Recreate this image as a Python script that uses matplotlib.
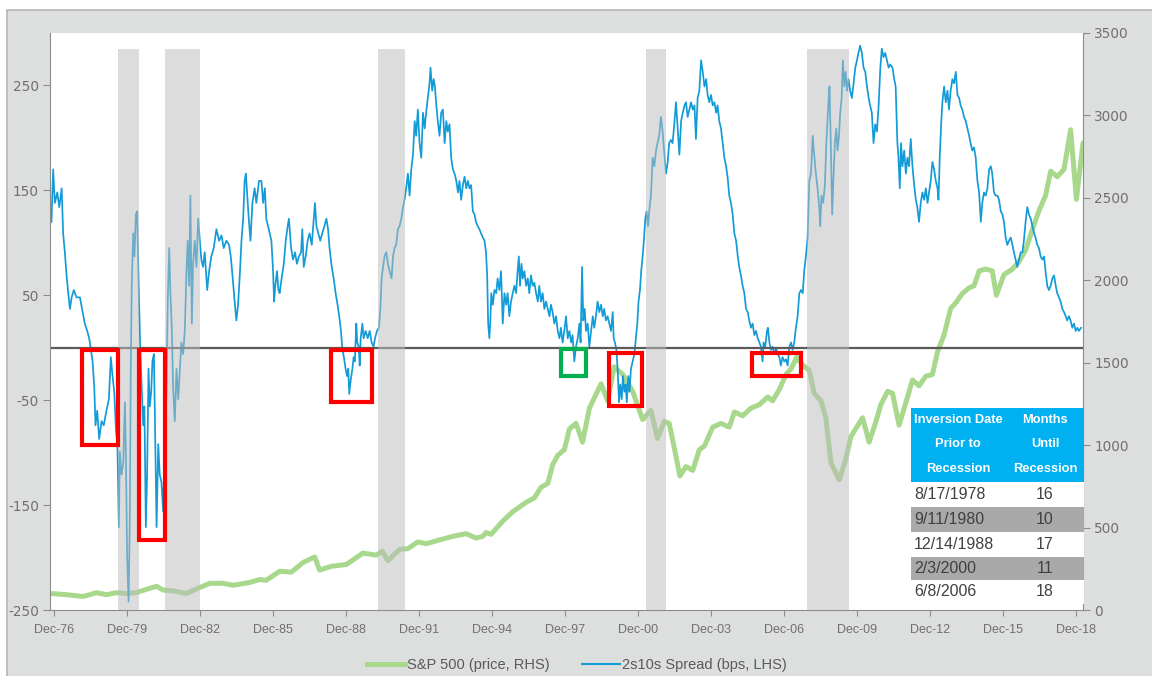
import matplotlib.pyplot as plt
from matplotlib.patches import Rectangle
from matplotlib.lines import Line2D

# 2s10s spread, bps (left axis), x in decimal years
spread_year = [
    1976.82, 1976.89, 1976.96, 1977.06, 1977.14, 1977.24, 1977.30, 1977.37, 1977.44, 1977.51,
    1977.58, 1977.65, 1977.74, 1977.85, 1977.99, 1978.10, 1978.19, 1978.29, 1978.37, 1978.43,
    1978.51, 1978.58, 1978.63, 1978.70, 1978.78, 1978.88, 1978.97, 1979.08, 1979.18, 1979.26,
    1979.33, 1979.40, 1979.47, 1979.53, 1979.59, 1979.63, 1979.70, 1979.77, 1979.84, 1979.88,
    1979.93, 1979.99, 1980.04, 1980.08, 1980.12, 1980.18, 1980.23, 1980.29, 1980.34, 1980.38,
    1980.42, 1980.47, 1980.53, 1980.59, 1980.64, 1980.70, 1980.75, 1980.81, 1980.86, 1980.92,
    1980.97, 1981.03, 1981.07, 1981.14, 1981.21, 1981.27, 1981.34, 1981.41, 1981.48, 1981.55,
    1981.60, 1981.66, 1981.71, 1981.77, 1981.82, 1981.89, 1981.96, 1982.03, 1982.09, 1982.16,
    1982.23, 1982.30, 1982.37, 1982.42, 1982.48, 1982.53, 1982.59, 1982.64, 1982.71, 1982.78,
    1982.85, 1982.92, 1982.98, 1983.05, 1983.12, 1983.22, 1983.30, 1983.39, 1983.49, 1983.60,
    1983.71, 1983.81, 1983.90, 1984.01, 1984.12, 1984.19, 1984.26, 1984.35, 1984.42, 1984.49,
    1984.56, 1984.63, 1984.70, 1984.76, 1984.81, 1984.86, 1984.93, 1985.00, 1985.08, 1985.17,
    1985.24, 1985.35, 1985.45, 1985.52, 1985.59, 1985.65, 1985.72, 1985.79, 1985.86, 1985.93,
    1985.97, 1986.02, 1986.09, 1986.15, 1986.20, 1986.28, 1986.37, 1986.45, 1986.53, 1986.58,
    1986.67, 1986.75, 1986.83, 1986.91, 1986.99, 1987.08, 1987.13, 1987.19, 1987.27, 1987.35,
    1987.43, 1987.52, 1987.60, 1987.65, 1987.71, 1987.79, 1987.87, 1987.95, 1988.04, 1988.12,
    1988.19, 1988.25, 1988.34, 1988.42, 1988.50, 1988.58, 1988.67, 1988.72, 1988.77, 1988.84,
    1988.91, 1988.97, 1989.02, 1989.06, 1989.12, 1989.19, 1989.24, 1989.29, 1989.35, 1989.39,
    1989.45, 1989.49, 1989.53, 1989.60, 1989.65, 1989.73, 1989.82, 1989.90, 1989.98, 1990.06,
    1990.12, 1990.20, 1990.28, 1990.34, 1990.39, 1990.45, 1990.51, 1990.58, 1990.65, 1990.72,
    1990.80, 1990.86, 1990.92, 1990.99, 1991.06, 1991.13, 1991.20, 1991.27, 1991.33, 1991.40,
    1991.47, 1991.54, 1991.61, 1991.68, 1991.75, 1991.81, 1991.88, 1991.95, 1992.02, 1992.09,
    1992.16, 1992.22, 1992.29, 1992.36, 1992.40, 1992.47, 1992.53, 1992.58, 1992.64, 1992.70,
    1992.77, 1992.84, 1992.91, 1992.98, 1993.05, 1993.11, 1993.18, 1993.25, 1993.32, 1993.39,
    1993.46, 1993.53, 1993.59, 1993.66, 1993.73, 1993.80, 1993.87, 1993.94, 1994.00, 1994.07,
    1994.14, 1994.21, 1994.27, 1994.34, 1994.41, 1994.48, 1994.55, 1994.62, 1994.68, 1994.73,
    1994.77, 1994.82, 1994.86, 1994.90, 1994.96, 1995.03, 1995.10, 1995.16, 1995.23, 1995.30,
    1995.37, 1995.44, 1995.51, 1995.57, 1995.64, 1995.71, 1995.78, 1995.85, 1995.92, 1995.98,
    1996.03, 1996.08, 1996.14, 1996.19, 1996.26, 1996.33, 1996.40, 1996.46, 1996.53, 1996.60,
    1996.67, 1996.74, 1996.81, 1996.87, 1996.94, 1997.01, 1997.08, 1997.15, 1997.22, 1997.29,
    1997.35, 1997.42, 1997.49, 1997.56, 1997.63, 1997.70, 1997.76, 1997.83, 1997.90, 1997.97,
    1998.04, 1998.11, 1998.18, 1998.24, 1998.31, 1998.38, 1998.45, 1998.52, 1998.57, 1998.63,
    1998.68, 1998.74, 1998.79, 1998.86, 1998.93, 1999.00, 1999.07, 1999.13, 1999.20, 1999.27,
    1999.34, 1999.41, 1999.48, 1999.54, 1999.61, 1999.68, 1999.75, 1999.82, 1999.89, 1999.93,
    1999.98, 2000.04, 2000.09, 2000.15, 2000.20, 2000.26, 2000.31, 2000.37, 2000.42, 2000.47,
    2000.53, 2000.58, 2000.64, 2000.71, 2000.78, 2000.84, 2000.90, 2000.95, 2001.01, 2001.06,
    2001.12, 2001.17, 2001.23, 2001.28, 2001.34, 2001.39, 2001.46, 2001.53, 2001.60, 2001.67,
    2001.73, 2001.80, 2001.87, 2001.93, 2001.99, 2002.08, 2002.15, 2002.21, 2002.28, 2002.35,
    2002.42, 2002.49, 2002.56, 2002.63, 2002.70, 2002.77, 2002.84, 2002.90, 2002.97, 2003.04,
    2003.11, 2003.18, 2003.25, 2003.31, 2003.38, 2003.45, 2003.52, 2003.59, 2003.66, 2003.73,
    2003.79, 2003.86, 2003.93, 2004.00, 2004.07, 2004.14, 2004.20, 2004.27, 2004.34, 2004.41,
    2004.48, 2004.55, 2004.61, 2004.68, 2004.75, 2004.82, 2004.89, 2004.96, 2005.03, 2005.09,
    2005.16, 2005.23, 2005.30, 2005.37, 2005.44, 2005.50, 2005.57, 2005.64, 2005.71, 2005.78,
    2005.85, 2005.92, 2005.98, 2006.05, 2006.09, 2006.16, 2006.23, 2006.27, 2006.33, 2006.39,
    2006.46, 2006.53, 2006.60, 2006.67, 2006.74, 2006.80, 2006.87, 2006.94, 2007.01, 2007.08,
    2007.15, 2007.22, 2007.28, 2007.35, 2007.42, 2007.49, 2007.56, 2007.63, 2007.70, 2007.76,
    2007.83, 2007.90, 2007.97, 2008.04, 2008.11, 2008.17, 2008.24, 2008.31, 2008.38, 2008.42,
    2008.47, 2008.54, 2008.61, 2008.67, 2008.75, 2008.80, 2008.86, 2008.91, 2008.97, 2009.02,
    2009.08, 2009.13, 2009.19, 2009.24, 2009.30, 2009.35, 2009.41, 2009.46, 2009.52, 2009.58,
    2009.65, 2009.72, 2009.79, 2009.86, 2009.93, 2009.99, 2010.06, 2010.13, 2010.20, 2010.27,
    2010.34, 2010.41, 2010.47, 2010.54, 2010.61, 2010.68, 2010.75, 2010.82, 2010.89, 2010.95,
    2011.02, 2011.09, 2011.16, 2011.23, 2011.30, 2011.39, 2011.46, 2011.52, 2011.59, 2011.63,
    2011.69, 2011.74, 2011.80, 2011.87, 2011.94, 2012.00, 2012.07, 2012.14, 2012.21, 2012.28,
    2012.35, 2012.41, 2012.48, 2012.55, 2012.62, 2012.69, 2012.76, 2012.83, 2012.89, 2012.96,
    2013.03, 2013.10, 2013.17, 2013.24, 2013.28, 2013.33, 2013.39, 2013.44, 2013.51, 2013.58,
    2013.65, 2013.71, 2013.78, 2013.85, 2013.92, 2013.99, 2014.06, 2014.13, 2014.19, 2014.26,
    2014.33, 2014.40, 2014.47, 2014.54, 2014.60, 2014.67, 2014.74, 2014.81, 2014.88, 2014.95,
    2015.02, 2015.08, 2015.15, 2015.22, 2015.29, 2015.36, 2015.43, 2015.49, 2015.56, 2015.63,
    2015.70, 2015.77, 2015.84, 2015.91, 2015.97, 2016.04, 2016.11, 2016.18, 2016.25, 2016.32,
    2016.38, 2016.45, 2016.52, 2016.59, 2016.66, 2016.73, 2016.79, 2016.86, 2016.93, 2017.00,
    2017.07, 2017.14, 2017.21, 2017.27, 2017.34, 2017.41, 2017.48, 2017.55, 2017.62, 2017.68,
    2017.75, 2017.82, 2017.89, 2017.96, 2018.03, 2018.10, 2018.16, 2018.23, 2018.30, 2018.37,
    2018.44, 2018.51, 2018.57, 2018.64, 2018.71, 2018.78, 2018.85, 2018.92, 2018.99, 2019.05,
    2019.14,
]
spread_bps = [
    120, 170, 138, 148, 134, 152, 109, 91, 69, 52,
    37, 48, 55, 48, 48, 34, 23, 16, 9, 0,
    -13, -38, -74, -60, -87, -70, -74, -60, -49, -9,
    -27, -42, -78, -92, -171, -99, -121, -110, -52, -103,
    -199, -242, -164, -20, 59, 109, 87, 127, 130, 87,
    44, -2, -38, -74, -56, -171, -121, -20, -56, -42,
    -13, -6, -63, -171, -92, -121, -128, -156, -92, -38,
    44, 95, 52, 16, -38, -70, -20, -49, -24, 5,
    -6, 16, 73, 102, 59, 145, 23, 80, 102, 77,
    123, 102, 84, 77, 91, 55, 73, 87, 95, 113,
    102, 107, 95, 102, 98, 87, 69, 44, 26, 41,
    69, 102, 123, 159, 166, 148, 123, 102, 138, 152,
    138, 159, 159, 138, 152, 123, 116, 109, 102, 73,
    44, 59, 73, 55, 52, 66, 80, 102, 116, 123,
    95, 84, 91, 80, 87, 91, 113, 77, 87, 102,
    109, 98, 123, 138, 116, 109, 102, 109, 116, 123,
    113, 95, 77, 66, 52, 41, 26, 16, 1, -9,
    -20, -27, -20, -44, -31, -20, -9, -13, 23, 5,
    1, -17, 9, 23, 9, 16, 9, 16, 5, 1,
    9, 16, 19, 37, 66, 77, 87, 91, 80, 73,
    66, 87, 95, 98, 113, 116, 123, 134, 141, 152,
    166, 145, 170, 184, 216, 202, 227, 195, 181, 224,
    209, 224, 238, 252, 267, 245, 256, 249, 231, 216,
    202, 224, 227, 195, 216, 206, 213, 181, 170, 166,
    159, 148, 159, 141, 155, 163, 152, 159, 152, 155,
    130, 127, 120, 116, 113, 109, 105, 102, 91, 69,
    23, 9, 26, 52, 41, 55, 52, 66, 55, 73,
    23, 52, 41, 52, 30, 44, 52, 59, 52, 73,
    87, 59, 80, 66, 73, 59, 66, 52, 69, 59,
    62, 52, 44, 59, 44, 52, 37, 44, 37, 30,
    41, 34, 23, 30, 16, 9, 19, 5, 16, 30,
    9, 16, 5, 12, -13, 1, 9, 23, 5, 77,
    26, 37, 16, 23, 1, 16, 30, 19, 30, 44,
    34, 41, 30, 37, 26, 30, 23, 16, 34, 9,
    5, -2, -20, -52, -35, -49, -27, -42, -35, -52,
    -27, -42, -20, -13, -6, 9, 23, 44, 55, 73,
    87, 102, 123, 130, 116, 130, 145, 181, 173, 188,
    195, 202, 220, 209, 191, 166, 177, 195, 198, 195,
    213, 234, 209, 184, 216, 224, 231, 234, 220, 227,
    234, 227, 231, 199, 238, 245, 274, 263, 249, 256,
    241, 234, 241, 231, 234, 224, 231, 216, 209, 195,
    181, 173, 163, 145, 138, 127, 109, 102, 87, 77,
    69, 59, 52, 37, 34, 26, 19, 23, 12, 16,
    9, 5, 1, -13, 5, 1, 16, 19, 5, -2,
    1, -6, 0, -6, -9, -17, -9, -13, -11, -17,
    1, 5, -2, 5, 19, 30, 52, 55, 52, 73,
    87, 105, 159, 166, 202, 184, 166, 152, 134, 116,
    145, 138, 155, 195, 231, 249, 188, 127, 166, 195,
    209, 188, 202, 224, 238, 274, 249, 263, 245, 256,
    245, 238, 252, 267, 274, 281, 288, 281, 267, 263,
    249, 238, 231, 224, 195, 213, 206, 231, 267, 285,
    277, 281, 274, 267, 270, 267, 256, 249, 195, 184,
    152, 195, 173, 188, 166, 181, 173, 199, 173, 155,
    141, 134, 120, 138, 148, 141, 152, 138, 148, 159,
    177, 170, 159, 152, 141, 181, 213, 234, 249, 234,
    245, 227, 245, 256, 252, 263, 241, 238, 231, 227,
    220, 216, 209, 202, 195, 188, 191, 181, 159, 148,
    120, 138, 148, 145, 152, 170, 173, 166, 148, 145,
    145, 141, 130, 127, 120, 105, 98, 102, 105, 98,
    91, 84, 77, 84, 91, 91, 102, 120, 134, 127,
    123, 116, 109, 105, 98, 95, 87, 84, 87, 73,
    59, 55, 59, 66, 69, 59, 52, 48, 44, 37,
    34, 30, 26, 30, 26, 19, 23, 16, 19, 16,
    19,
]

# S&P 500 price (right axis)
spx_year = [
    1976.82, 1977.44, 1978.12, 1978.67, 1979.08, 1979.49, 1979.90, 1980.31, 1980.52, 1981.14,
    1981.41, 1981.82, 1982.37, 1982.78, 1983.33, 1983.87, 1984.29, 1984.97, 1985.38, 1985.65,
    1986.20, 1986.68, 1987.16, 1987.64, 1987.84, 1988.32, 1988.94, 1989.62, 1990.17, 1990.42,
    1990.65, 1991.13, 1991.47, 1991.88, 1992.22, 1992.77, 1993.32, 1993.87, 1994.27, 1994.55,
    1994.68, 1994.89, 1995.37, 1995.78, 1996.33, 1996.67, 1996.94, 1997.22, 1997.42, 1997.63,
    1997.90, 1998.11, 1998.38, 1998.65, 1998.93, 1999.41, 1999.68, 1999.95, 2000.30, 2000.71,
    2001.12, 2001.46, 2001.73, 2002.01, 2002.21, 2002.42, 2002.65, 2002.90, 2003.18, 2003.45,
    2003.66, 2004.00, 2004.34, 2004.68, 2004.89, 2005.23, 2005.57, 2005.92, 2006.26, 2006.46,
    2006.74, 2007.01, 2007.22, 2007.45, 2007.70, 2007.97, 2008.17, 2008.45, 2008.65, 2008.86,
    2009.20, 2009.47, 2009.68, 2010.16, 2010.43, 2010.71, 2010.91, 2011.19, 2011.39, 2011.66,
    2011.94, 2012.21, 2012.48, 2012.76, 2013.03, 2013.24, 2013.51, 2013.78, 2013.99, 2014.26,
    2014.54, 2014.74, 2014.95, 2015.22, 2015.49, 2015.66, 2015.97, 2016.32, 2016.59, 2016.86,
    2017.14, 2017.41, 2017.68, 2017.89, 2018.16, 2018.44, 2018.71, 2018.95, 2019.22,
]
spx_price = [
    100, 93, 82, 105, 93, 105, 100, 105, 116, 144,
    121, 116, 100, 128, 162, 162, 150, 167, 185, 180,
    235, 230, 288, 322, 242, 265, 276, 345, 333, 356,
    299, 368, 372, 413, 402, 425, 447, 463, 436, 447,
    470, 459, 539, 596, 653, 680, 744, 767, 881, 938,
    972, 1098, 1132, 1018, 1224, 1372, 1269, 1475, 1429, 1326,
    1155, 1212, 1041, 1144, 1132, 984, 813, 870, 847, 972,
    995, 1109, 1132, 1109, 1201, 1178, 1224, 1246, 1292, 1269,
    1338, 1429, 1463, 1532, 1486, 1452, 1315, 1269, 1166, 893,
    790, 915, 1052, 1166, 1018, 1144, 1246, 1326, 1315, 1121,
    1258, 1395, 1360, 1418, 1429, 1566, 1669, 1829, 1863, 1920,
    1954, 1966, 2057, 2068, 2057, 1909, 2034, 2068, 2114, 2182,
    2308, 2422, 2513, 2662, 2628, 2673, 2913, 2491, 2833,
]

# recessions (shaded)
rec_start = [1979.56, 1981.48, 1990.23, 2001.26, 2007.88]
rec_end = [1980.41, 1982.94, 1991.35, 2002.10, 2009.61]

# highlighted inversions
box_start = [1978.07, 1980.40, 1988.31, 1997.78, 1999.73, 2005.61]
box_end = [1979.56, 1981.49, 1990.00, 1998.78, 2001.10, 2007.61]
box_low = [-93, -183, -52, -27, -56, -27]
box_high = [-2, -2, -2, -1, -5, -5]
box_color = ['#ff0000', '#ff0000', '#ff0000', '#00b050', '#ff0000', '#ff0000']

tick_years = list(range(1976, 2019, 3))
tick_labels = ['Dec-%02d' % (y % 100) for y in tick_years]

table_header1 = ['Inversion Date', 'Prior to', 'Recession']
table_header2 = ['Months', 'Until', 'Recession']
table_dates = ['8/17/1978', '9/11/1980', '12/14/1988', '2/3/2000', '6/8/2006']
table_months = ['16', '10', '17', '11', '18']

plt.rcParams['axes.unicode_minus'] = False
sans = ['Liberation Sans', 'DejaVu Sans']
W, H = 1152, 676
L, R, T, B = 50, 1083, 33, 610


def axx(px):
    return (px - L) / (R - L)


def axy(py):
    return (B - py) / (B - T)


fig = plt.figure(figsize=(W / 100, H / 100), dpi=100)
fig.patch.set_facecolor('white')
fig.patches.append(Rectangle((7 / W, -0.01), 1.0, 1 - 10 / H + 0.01, transform=fig.transFigure,
                             facecolor='#dddfde', edgecolor='#b5b5b5', lw=1.2, zorder=-10))

ax = fig.add_axes([L / W, 1 - B / H, (R - L) / W, (B - T) / H])
ax2 = ax.twinx()
ax.set_zorder(ax2.get_zorder() + 1)
ax.patch.set_visible(False)
ax2.patch.set_visible(True)
ax2.patch.set_facecolor('white')

ax2.plot(spx_year, spx_price, color='#a8d88c', lw=3.6, solid_capstyle='round', solid_joinstyle='round')
ax.plot(spread_year, spread_bps, color='#139bd8', lw=1.25, zorder=2)
ax.axhline(0, color='#5a5a5a', lw=1.6, zorder=2.5)

for s, e in zip(rec_start, rec_end):
    ax.axvspan(s, e, ymin=0, ymax=0.973, color='#bdbdbd', alpha=0.52, lw=0, zorder=4)

for s, e, lo, hi, c in zip(box_start, box_end, box_low, box_high, box_color):
    ax.add_patch(Rectangle((s, lo), e - s, hi - lo, fill=False, ec=c, lw=3.0, zorder=5))

ax.set_xlim(1976.76, 2019.22)
ax.set_ylim(-250, 300)
ax2.set_ylim(0, 3500)
ax.set_yticks([-250, -150, -50, 50, 150, 250])
ax2.set_yticks(range(0, 3501, 500))
ax.set_xticks([y + 11 / 12 for y in tick_years])
ax.set_xticklabels(tick_labels, family=sans, fontsize=9)

spine_c = '#8c8c8c'
for a in (ax, ax2):
    a.spines['top'].set_visible(False)
ax.spines['right'].set_visible(False)
ax2.spines['left'].set_visible(False)
ax2.spines['bottom'].set_visible(False)
ax.spines['left'].set_color(spine_c)
ax.spines['bottom'].set_color(spine_c)
ax2.spines['right'].set_color(spine_c)
ax.tick_params(axis='y', length=5, color=spine_c, labelcolor='#6f6f6f', labelsize=9.8, pad=3)
ax2.tick_params(axis='y', length=5, color=spine_c, labelcolor='#6f6f6f', labelsize=9.8, pad=3)
ax.tick_params(axis='x', length=4, color=spine_c, labelcolor='#6f6f6f', pad=6)

# table of inversion dates
tz = 20
tr = ax.transAxes
ax.add_patch(Rectangle((axx(911), axy(482)), axx(1084) - axx(911), axy(408) - axy(482),
                       transform=tr, fc='#00b0f0', ec='none', zorder=tz, clip_on=False))
row_edges = [482, 507, 532, 557, 580, 604]
for i in range(5):
    fc = 'white' if i % 2 == 0 else '#a9a9a9'
    ax.add_patch(Rectangle((axx(911), axy(row_edges[i + 1])), axx(1084) - axx(911),
                           axy(row_edges[i]) - axy(row_edges[i + 1]),
                           transform=tr, fc=fc, ec='none', zorder=tz, clip_on=False))
    yc = axy((row_edges[i] + row_edges[i + 1]) / 2)
    ax.text(axx(914), yc, table_dates[i], transform=tr, ha='left', va='center',
            fontsize=11.5, color='#404040', family=sans, zorder=tz + 1)
    ax.text(axx(1045), yc, table_months[i], transform=tr, ha='center', va='center',
            fontsize=11.5, color='#404040', family=sans, zorder=tz + 1)
for j, yy in enumerate([420, 444.5, 469]):
    ax.text(axx(958), axy(yy), table_header1[j], transform=tr, ha='center', va='center',
            fontsize=9.3, color='white', weight='bold', family=sans, zorder=tz + 1)
    ax.text(axx(1045), axy(yy), table_header2[j], transform=tr, ha='center', va='center',
            fontsize=9.3, color='white', weight='bold', family=sans, zorder=tz + 1)

handles = [Line2D([], [], color='#a8d88c', lw=3.6), Line2D([], [], color='#139bd8', lw=1.5)]
leg = fig.legend(handles, ['S&P 500 (price, RHS)', '2s10s Spread (bps, LHS)'], loc='center',
                 bbox_to_anchor=(577 / W, 1 - 665 / H), ncol=2, frameon=False,
                 handlelength=2.6, handletextpad=0.15, columnspacing=2.2,
                 prop={'family': sans, 'size': 10.5})
for t in leg.get_texts():
    t.set_color('#595959')

fig.savefig('out.png', dpi=100)
